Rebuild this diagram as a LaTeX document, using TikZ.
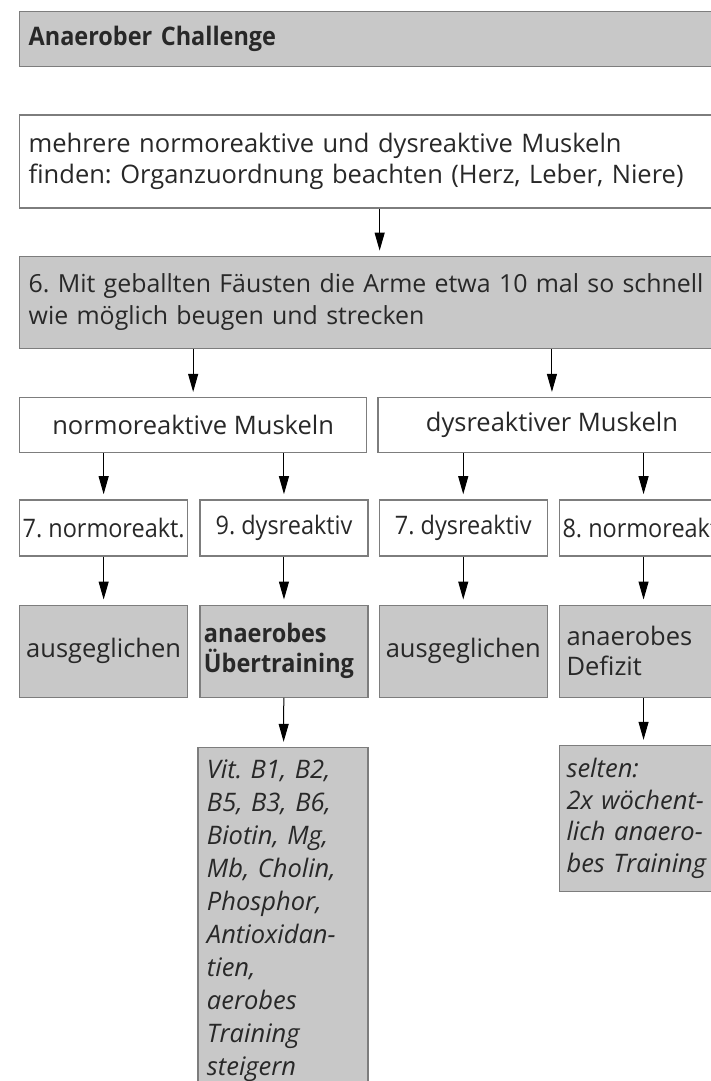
\documentclass[tikz,border=0pt]{standalone}
\usepackage{fontspec}
\setmainfont{Open Sans}[BoldFeatures={FakeStretch=0.92}]
\newfontfamily\narrowfont{Open Sans}[FakeStretch=0.92]
\usetikzlibrary{positioning,arrows.meta}
\definecolor{boxgray}{RGB}{200,200,200}
\definecolor{boxline}{RGB}{125,125,125}
\definecolor{textgray}{RGB}{40,40,40}

\begin{document}
\frenchspacing
\begin{tikzpicture}[x=1pt,y=-1pt]
            \tikzstyle{wbox}=[draw=boxline,line width=1.3pt,fill=white,text=textgray,font=\fontsize{25.5}{31.5}\selectfont,inner xsep=9pt,inner ysep=0pt]
            \tikzstyle{gbox}=[wbox,fill=boxgray]
            \tikzstyle{widebox}=[text width=702pt,align=left,minimum width=720pt]
            \tikzstyle{cell}=[minimum width=168pt,align=center,inner xsep=2pt]
            \tikzstyle{arr}=[-{Triangle[length=18pt,width=10pt]},line width=1pt,shorten >=5pt]
            \useasboundingbox (0,0) rectangle (711,1081);
            \clip (0,0) rectangle (711,1081);
            \node[gbox,widebox,minimum height=55pt,anchor=north west,font=\fontsize{25.5}{31.5}\selectfont\bfseries] (title) at (19,11) {Anaerober Challenge};
            \node[wbox,widebox,minimum height=93pt,below=47pt of title] (muskeln) {mehrere normoreaktive und dysreaktive Muskeln\\finden: Organzuordnung beachten (Herz, Leber, Niere)};
            \node[gbox,widebox,minimum height=92pt,below=47pt of muskeln,font=\fontsize{24.9}{31.5}\selectfont] (faeuste) {6. Mit geballten Fäusten die Arme etwa 10 mal so schnell\\wie möglich beugen und strecken};
            \node[wbox,minimum width=347pt,minimum height=55pt,below=48pt of faeuste.south west,anchor=north west] (normo) {normoreaktive Muskeln};
            \node[wbox,minimum width=348pt,minimum height=55pt,right=10pt of normo] (dys) {dysreaktiver Muskeln};
            \node[wbox,cell,minimum height=56pt,below=46pt of normo.south west,anchor=north west,font=\fontsize{25.5}{31.5}\narrowfont] (nn) {7. normoreakt.};
            \node[wbox,cell,minimum height=56pt,right=11pt of nn,font=\fontsize{25.5}{31.5}\narrowfont] (nd) {9. dysreaktiv};
            \node[wbox,cell,minimum height=56pt,right=10pt of nd,font=\fontsize{25.5}{31.5}\narrowfont] (dd) {7. dysreaktiv};
            \node[wbox,cell,minimum height=56pt,right=11pt of dd,font=\fontsize{25.5}{31.5}\narrowfont] (dn) {8. normoreakt.};
            \node[gbox,cell,minimum height=92pt,below=48pt of nn] (na) {ausgeglichen};
            \node[gbox,cell,minimum height=92pt,below=48pt of nd,text width=160pt,align=left,inner xsep=4pt,font=\fontsize{25.5}{30}\selectfont\bfseries] (ue) {anaerobes\\Übertraining};
            \node[gbox,cell,minimum height=92pt,below=48pt of dd] (da) {ausgeglichen};
            \node[gbox,cell,minimum height=92pt,below=48pt of dn,text width=154pt,align=left,inner xsep=7pt,font=\fontsize{25.5}{30}\selectfont] (defizit) {anaerobes\\Defizit};
            \node[gbox,below=49pt of ue.south west,anchor=north west,xshift=-2pt,text width=152pt,align=left,inner ysep=12pt,font=\fontsize{25.5}{33}\selectfont\itshape] (vit) {Vit. B1, B2,\\B5, B3, B6,\\Biotin, Mg,\\Mb, Cholin,\\Phosphor,\\Antioxidan-\\tien,\\aerobes\\Training\\steigern};
            \node[gbox,below=47pt of defizit.south west,anchor=north west,text width=154pt,align=left,inner xsep=7pt,minimum height=146pt,font=\fontsize{25.5}{31.5}\selectfont\itshape] (selten) {selten:\\2x wöchent-\\lich anaero-\\bes Training};
            \draw[arr] (muskeln) -- (faeuste);
            \draw[arr] (faeuste.south -| normo) -- (normo);
            \draw[arr] (faeuste.south -| dys) -- (dys);
            \foreach \a/\b in {normo/nn,normo/nd,dys/dd,dys/dn}
                \draw[arr] (\a.south -| \b) -- (\b);
            \foreach \a/\b in {nn/na,nd/ue,dd/da,dn/defizit,ue/vit,defizit/selten}
                \draw[arr] (\a) -- (\b);
        \end{tikzpicture}
\end{document}
